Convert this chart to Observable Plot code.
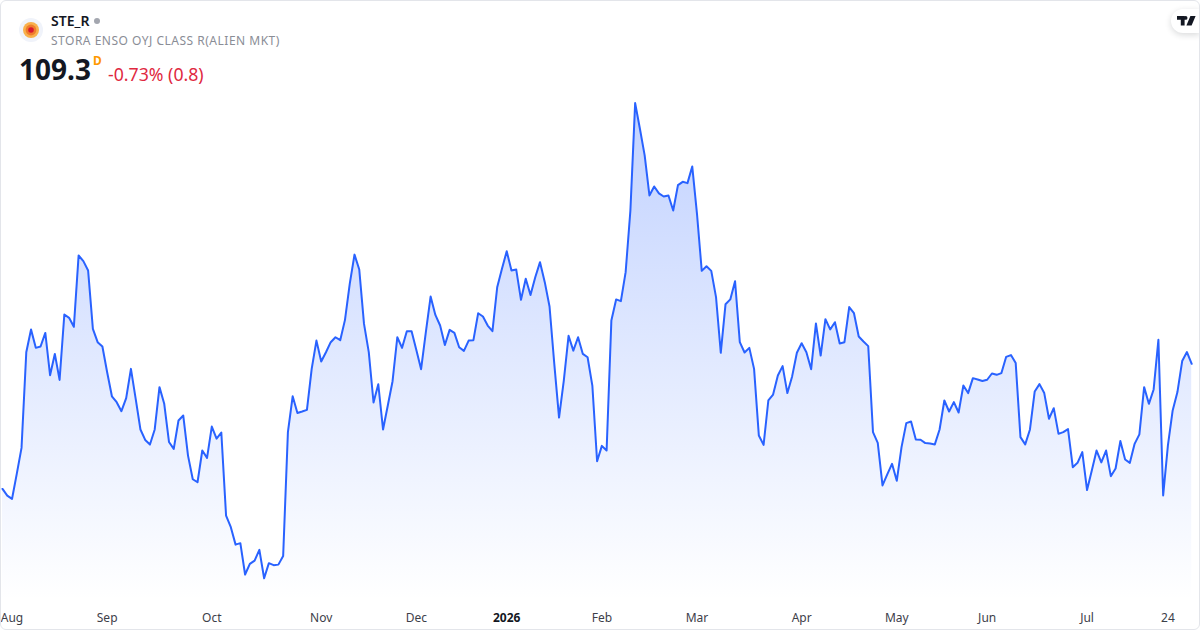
<!DOCTYPE html>
<html><head><meta charset="utf-8">
<script src="https://cdn.jsdelivr.net/npm/d3@7"></script>
<script src="https://cdn.jsdelivr.net/npm/@observablehq/plot@0.6"></script>
<style>
html,body{margin:0;padding:0;background:#fff;}
#wrap{position:relative;width:1200px;height:630px;overflow:hidden;font-family:"Noto Sans",sans-serif;}
#frame{position:absolute;left:0;top:0;width:1198px;height:628px;border:1px solid #e3e5ea;border-radius:6px;pointer-events:none;}
#wrap svg.plot{position:absolute;left:0;top:0;}
.t{position:absolute;white-space:nowrap;line-height:1;}
#sym{left:51px;top:14px;font-size:14px;font-weight:600;color:#131722;}
#dot{position:absolute;left:94px;top:18px;width:6px;height:6px;border-radius:50%;background:#a3a6af;}
#name{left:51px;top:35px;font-size:12px;color:#8a8d96;letter-spacing:.5px;}
#price{left:19px;top:55px;font-size:28px;font-weight:700;color:#131722;}
#d{left:93px;top:55px;font-size:12px;font-weight:700;color:#ff9800;}
#chg{left:108px;top:66px;font-size:17.7px;color:#e0293f;}
#icon{position:absolute;left:19px;top:18px;}
#logo{position:absolute;left:1171px;top:9px;width:29px;height:24px;background:#fff;border-radius:12px 0 0 12px;box-shadow:0 2px 6px rgba(19,23,34,.16);}
</style></head><body>
<div id="wrap">
<svg id="icon" width="24" height="24" viewBox="0 0 24 24"><circle cx="12" cy="12" r="12" fill="#f0f3fa"/><circle cx="12" cy="12" r="8" fill="#f8b14c"/><circle cx="12" cy="12" r="5.4" fill="#ef7c2c"/><circle cx="12" cy="12" r="2.8" fill="#d8182f"/></svg>
<div class="t" id="sym">STE_R</div><div id="dot"></div>
<div class="t" id="name">STORA ENSO OYJ CLASS R(ALIEN MKT)</div>
<div class="t" id="price">109.3</div><div class="t" id="d">D</div>
<div class="t" id="chg">-0.73% (0.8)</div>
<div id="logo"><svg width="19" height="10" viewBox="0 0 19 10" style="position:absolute;left:6px;top:7px"><path d="M0 0H7.6V9.6H3.8V3.8H0Z M8.6 0A1.9 1.9 0 1 1 8.6 3.8A1.9 1.9 0 1 1 8.6 0Z M13.4 0H18.6L14.6 9.6H9.4Z" fill="#131722"/></svg></div>
<div id="frame"></div>
</div>
<script>
const closes = [
100.67,100.21,99.98,101.71,103.50,110.10,111.66,110.40,110.49,111.43,
108.51,109.98,108.19,112.70,112.47,111.85,116.77,116.38,115.73,111.71,
110.79,110.49,108.72,107.06,106.65,106.03,106.93,108.95,106.88,104.77,
104.05,103.73,104.77,107.69,106.54,103.91,103.43,105.39,105.73,102.97,
101.34,101.13,103.32,102.81,104.97,104.14,104.56,98.83,98.03,96.83,
96.93,94.77,95.50,95.73,96.47,94.51,95.55,95.41,95.45,96.05,
104.58,107.06,105.91,106.01,106.12,108.95,110.90,109.46,110.10,110.79,
111.13,110.93,112.33,114.81,116.83,115.80,112.05,110.10,106.63,107.89,
104.77,106.42,108.10,111.13,110.40,111.55,111.55,110.26,108.93,111.48,
113.94,112.67,111.94,110.60,111.64,111.43,110.44,110.19,110.90,110.93,
112.79,112.56,111.94,111.55,114.58,115.85,117.06,115.73,115.80,113.71,
115.16,114.05,115.27,116.31,114.93,113.25,109.29,105.59,108.14,111.23,
110.21,111.13,109.98,109.75,107.80,102.58,103.64,103.32,112.29,113.74,
113.62,115.62,119.87,127.28,125.51,123.67,120.91,121.53,121.05,120.84,
120.91,119.87,121.62,121.85,121.76,122.91,119.64,115.71,116.03,115.71,
113.90,110.06,113.41,113.74,115.00,110.79,110.08,110.40,108.95,104.36,
103.71,106.77,107.18,108.49,109.14,107.28,108.43,110.06,110.72,110.10,
108.93,112.08,109.87,112.38,111.67,112.17,110.70,110.79,113.21,112.79,
111.18,110.84,110.52,104.59,103.85,100.91,101.67,102.40,101.23,103.55,
105.21,105.32,104.08,104.06,103.83,103.81,103.74,104.77,106.77,106.01,
106.66,105.94,107.81,107.28,108.31,108.22,108.11,108.20,108.63,108.54,
108.66,109.78,109.90,109.35,104.24,103.74,104.77,107.39,107.90,107.28,
105.51,106.24,104.47,104.59,104.80,102.17,102.47,103.21,100.59,101.94,
103.32,102.50,103.32,101.55,102.08,103.97,102.70,102.47,103.78,104.43,
107.69,106.54,107.53,110.96,100.22,103.67,106.08,107.35,109.49,110.11,
109.30];
const sessions = closes.map((_, i) => i);
const tickSessions = [2,22,44,67,87,126,146,168,188,207,228,245];
const tickLabels = ["Aug","Sep","Oct","Nov","Dec","Feb","Mar","Apr","May","Jun","Jul","24"];
const yearSession = [106];
const yearLabel = ["2026"];
const rows = sessions.map(i => ({i, close: closes[i]}));
const yBase = 93;

const defs = () => {
  const ns = "http://www.w3.org/2000/svg";
  const d = document.createElementNS(ns, "defs");
  const g = document.createElementNS(ns, "linearGradient");
  g.setAttribute("id", "fade");
  g.setAttribute("gradientUnits", "userSpaceOnUse");
  g.setAttribute("x1", 0); g.setAttribute("x2", 0);
  g.setAttribute("y1", 102); g.setAttribute("y2", 600);
  [[0, 0.29], [1, 0]].forEach(([o, a]) => {
    const s = document.createElementNS(ns, "stop");
    s.setAttribute("offset", o);
    s.setAttribute("stop-color", "#2962ff");
    s.setAttribute("stop-opacity", a);
    g.appendChild(s);
  });
  d.appendChild(g);
  return d;
};

const chart = Plot.plot({
  width: 1200, height: 630,
  margin: 0,
  style: {background: "transparent", fontFamily: '"Noto Sans", sans-serif'},
  x: {type: "linear", domain: [0, 250], range: [2, 1191.2], axis: null},
  y: {type: "linear", domain: [yBase, 128], range: [599.65, 92.15], axis: null},
  marks: [
    defs,
    Plot.areaY(rows, {x: "i", y1: yBase, y2: "close", fill: "url(#fade)", curve: "linear"}),
    Plot.lineY(rows, {x: "i", y: "close", stroke: "#2962ff", strokeWidth: 2, curve: "linear", strokeLinejoin: "round"}),
    Plot.text(tickSessions, {x: d => d, frameAnchor: "bottom", dy: -9, text: (d, i) => tickLabels[i], fontSize: 12, fill: "#3d4049"}),
    Plot.text(yearSession, {x: d => d, frameAnchor: "bottom", dy: -9, text: (d, i) => yearLabel[i], fontSize: 12, fontWeight: 700, fill: "#131722"})
  ]
});
document.getElementById("wrap").prepend(chart);
</script>
</body></html>
